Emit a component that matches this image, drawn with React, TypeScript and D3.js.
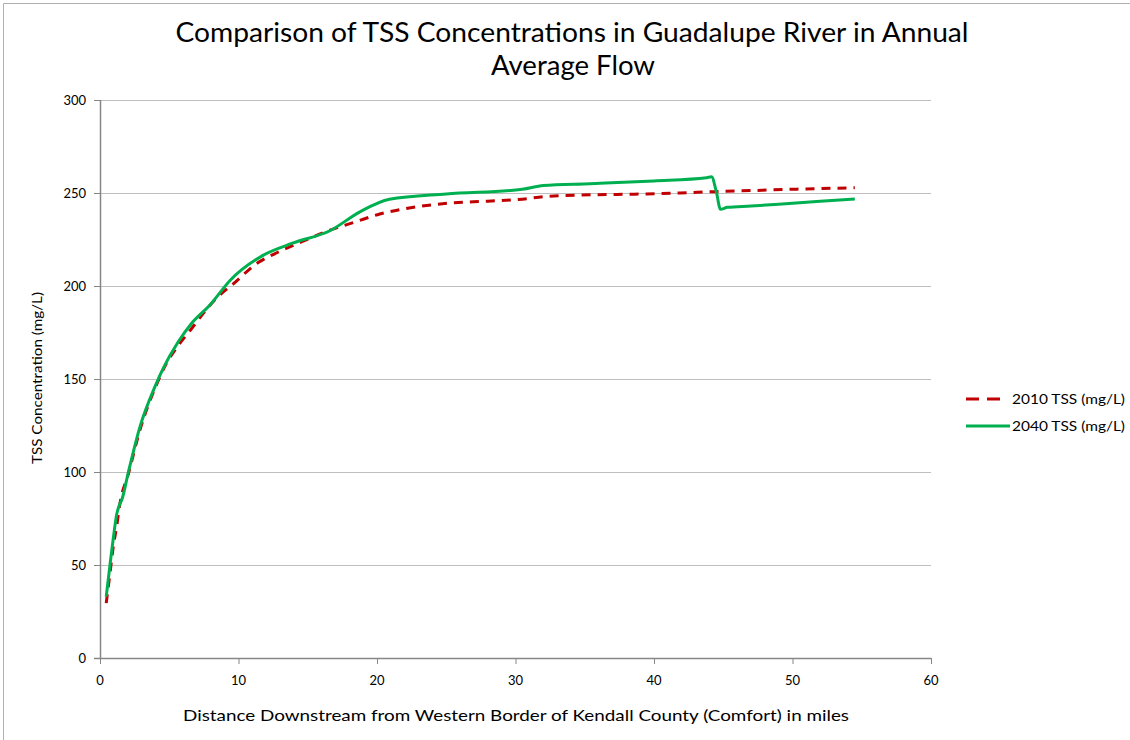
import React from "react";
import * as d3 from "d3";

const title1 = "Comparison of TSS Concentrations in Guadalupe River in Annual";
const title2 = "Average Flow";
const xTitle = "Distance Downstream from Western Border of Kendall County (Comfort) in miles";
const yTitle = "TSS Concentration (mg/L)";
const xTicks = [0, 10, 20, 30, 40, 50, 60];
const yTicks = [0, 50, 100, 150, 200, 250, 300];

const s2010Name = "2010 TSS (mg/L)";
const s2010X = [0.45, 0.72, 0.96, 1.2, 1.44, 2.05, 2.9, 3.97, 4.8, 5.5, 6.5, 7.46, 8.4, 9.6, 11.3, 12.8, 14.2, 16.6, 18.5, 20.2, 22, 25.3, 28, 30.5, 32, 35.4, 38, 41.9, 44.3, 47, 50, 52, 54.5];
const s2010Y = [29.5, 45.5, 60, 70.6, 83, 99, 123, 145, 158.5, 166.5, 176, 185.3, 193.4, 201, 212, 218, 222.6, 230, 234.6, 238.7, 241.5, 244.6, 245.6, 246.7, 248, 249, 249.3, 250, 250.7, 251.3, 252, 252.4, 252.8];

const s2040Name = "2040 TSS (mg/L)";
const s2040X = [0.45, 0.72, 0.96, 1.2, 1.44, 1.57, 2.05, 2.89, 3.97, 4.57, 5.65, 6.62, 7.94, 9.39, 11.8, 13.9, 16.6, 18.8, 20.9, 25, 30.5, 32, 35.4, 40, 43.8, 44.15, 44.5, 44.8, 45.3, 47, 50, 52, 54.5];
const s2040Y = [33, 50, 64.4, 77, 83, 85, 100, 124.4, 145.9, 155.8, 170, 180, 189.8, 203, 216.6, 223, 229.7, 240, 246.6, 249.5, 252, 254, 255, 256.5, 258.2, 258.7, 250.7, 241.2, 242.3, 243, 244.5, 245.5, 246.8];

const FONT = "Lato, 'Open Sans', sans-serif";

export default function App() {
  const x = d3.scaleLinear().domain([0, 60]).range([100, 931]);
  const y = d3.scaleLinear().domain([0, 300]).range([658, 100]);
  const line = d3
    .line<[number, number]>()
    .x((d) => x(d[0]))
    .y((d) => y(d[1]))
    .curve(d3.curveMonotoneX);
  const d2010 = line(s2010X.map((v, i) => [v, s2010Y[i]] as [number, number])) || "";
  const d2040 = line(s2040X.map((v, i) => [v, s2040Y[i]] as [number, number])) || "";
  const red = "#C00000";
  const green = "#00B050";

  return (
    <svg
      width={1130}
      height={740}
      style={{ position: "absolute", left: 0, top: 0, background: "#fff" }}
      fontFamily={FONT}
    >
      <rect x={0} y={0} width={1130} height={740} fill="#fff" />
      <path d="M3.5,740 L3.5,3.5 L1130,3.5" fill="none" stroke="#B0B0B0" strokeWidth={1} />
      <text x={572} y={42} textAnchor="middle" fontSize={27} fill="#000" textLength={793} lengthAdjust="spacingAndGlyphs">{title1}</text>
      <text x={573} y={75} textAnchor="middle" fontSize={27} fill="#000" textLength={164} lengthAdjust="spacingAndGlyphs">{title2}</text>

      {yTicks.filter((t) => t > 0).map((t) => (
        <line key={"g" + t} x1={100} x2={931} y1={y(t) + 0.5} y2={y(t) + 0.5} stroke="#BFBFBF" strokeWidth={1} />
      ))}
      <line x1={100.5} x2={100.5} y1={100} y2={658} stroke="#868686" strokeWidth={1.5} />
      <line x1={94} x2={931} y1={658.5} y2={658.5} stroke="#868686" strokeWidth={1.5} />
      {yTicks.map((t) => (
        <g key={"y" + t}>
          <line x1={94} x2={100} y1={y(t) + 0.5} y2={y(t) + 0.5} stroke="#868686" />
          <text x={86} y={y(t) + 4.5} textAnchor="end" fontSize={13} fill="#000">{t}</text>
        </g>
      ))}
      {xTicks.map((t) => (
        <g key={"x" + t}>
          <line x1={x(t) + 0.5} x2={x(t) + 0.5} y1={658} y2={664} stroke="#868686" />
          <text x={x(t)} y={685} textAnchor="middle" fontSize={13} fill="#000">{t}</text>
        </g>
      ))}
      <text x={516} y={721} textAnchor="middle" fontSize={16} fill="#000" textLength={666} lengthAdjust="spacingAndGlyphs">{xTitle}</text>
      <text transform="translate(42,378) rotate(-90)" textAnchor="middle" fontSize={12.5} fill="#000" textLength={172} lengthAdjust="spacingAndGlyphs">{yTitle}</text>

      <path d={d2010} fill="none" stroke={red} strokeWidth={3} strokeDasharray="9,7" />
      <path d={d2040} fill="none" stroke={green} strokeWidth={3} />

      <line x1={966} x2={1004} y1={399} y2={399} stroke={red} strokeWidth={3} strokeDasharray="13,8" />
      <text x={1012} y={404} fontSize={14} fill="#000" textLength={113} lengthAdjust="spacingAndGlyphs">{s2010Name}</text>
      <line x1={966} x2={1010} y1={426} y2={426} stroke={green} strokeWidth={3} />
      <text x={1012} y={431} fontSize={14} fill="#000" textLength={113} lengthAdjust="spacingAndGlyphs">{s2040Name}</text>
    </svg>
  );
}
